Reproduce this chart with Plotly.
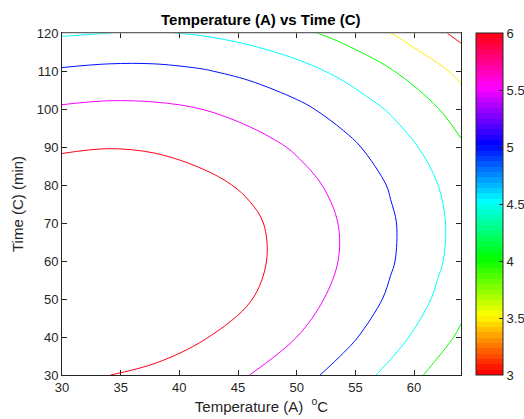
import plotly.graph_objects as go
import colorsys

# Temperature (A) grid, degrees C
temperature = [30, 34, 38, 42, 46, 50, 54, 58, 62, 64]
# Time (C) grid, minutes
time_min = [30, 40, 50, 60, 70, 80, 90, 100, 110, 120]
# Response values estimated from the contour picture (rows = time, cols = temperature)
response = [
    [6.051, 6.003, 5.913, 5.741, 5.499, 5.189, 4.810, 4.361, 3.844, 3.560],
    [6.304, 6.281, 6.190, 6.029, 5.800, 5.501, 5.134, 4.697, 4.192, 3.914],
    [6.449, 6.438, 6.358, 6.210, 6.020, 5.706, 5.350, 4.926, 4.432, 4.160],
    [6.486, 6.487, 6.419, 6.283, 6.110, 5.802, 5.459, 5.046, 4.564, 4.298],
    [6.415, 6.428, 6.373, 6.248, 6.085, 5.791, 5.459, 5.059, 4.589, 4.328],
    [6.237, 6.262, 6.218, 6.105, 5.935, 5.672, 5.352, 4.964, 4.506, 4.251],
    [5.951, 5.988, 5.956, 5.855, 5.685, 5.446, 5.138, 4.761, 4.315, 4.066],
    [5.557, 5.606, 5.586, 5.496, 5.338, 5.111, 4.815, 4.450, 4.016, 3.773],
    [5.055, 5.116, 5.108, 5.030, 4.884, 4.669, 4.385, 4.032, 3.609, 3.372],
    [4.446, 4.499, 4.527, 4.457, 4.322, 4.119, 3.847, 3.505, 3.095, 2.864],
]
x_ticks = [30, 35, 40, 45, 50, 55, 60]
y_ticks = [30, 40, 50, 60, 70, 80, 90, 100, 110, 120]
cbar_ticks = [3, 3.5, 4, 4.5, 5, 5.5, 6]
zmin, zmax = 3, 6

# MATLAB-like hsv(64) stepped colormap
n = 64
hsv_scale = []
for i in range(n):
    r, g, b = colorsys.hsv_to_rgb(i / n, 1, 1)
    c = f"rgb({int(round(r*255))},{int(round(g*255))},{int(round(b*255))})"
    hsv_scale.append([i / n, c])
    hsv_scale.append([(i + 1) / n, c])

FONT = "Liberation Sans, Arial, Helvetica, sans-serif"

fig = go.Figure()
fig.add_trace(go.Contour(
    x=temperature, y=time_min, z=response,
    zmin=zmin, zmax=zmax, zauto=False,
    colorscale=hsv_scale,
    contours=dict(coloring="lines", start=3, end=6, size=0.5, showlabels=False),
    line=dict(width=1, smoothing=1.0),
    showscale=False, hoverinfo="skip",
))
fig.add_trace(go.Scatter(
    x=[None, None], y=[None, None], mode="markers",
    marker=dict(color=[zmin, zmax], cmin=zmin, cmax=zmax, colorscale=hsv_scale,
                showscale=True,
                colorbar=dict(x=(476 - 62) / (461 - 62), xanchor="left", y=0, yanchor="bottom",
                              len=1, lenmode="fraction", thickness=27, xpad=0, ypad=0,
                              outlinewidth=1, outlinecolor="#262626",
                              ticks="inside", ticklen=4, tickcolor="#262626",
                              tickvals=cbar_ticks, ticktext=[str(t) for t in cbar_ticks],
                              tickfont=dict(family=FONT, size=13, color="#262626"))),
    showlegend=False, hoverinfo="skip",
))

axis_common = dict(
    showgrid=False, zeroline=False, showline=True, linecolor="#262626", linewidth=1,
    mirror="ticks", ticks="inside", ticklen=5, tickcolor="#262626",
    tickfont=dict(family=FONT, size=13, color="#262626"),
)
fig.update_layout(
    width=524, height=419,
    margin=dict(l=62, r=63, t=33, b=44, autoexpand=False),
    paper_bgcolor="white", plot_bgcolor="white",
    title=dict(text="<b>Temperature (A) vs Time (C)</b>", x=261 / 524, xref="paper",
               xanchor="center", y=1 - 20/419, yanchor="middle",
               font=dict(family=FONT, size=15, color="#000000")),
    xaxis=dict(range=[30, 64], tickvals=x_ticks,
               title=dict(text="Temperature (A)  <sup>o</sup>C", standoff=7,
                          font=dict(family=FONT, size=15, color="#262626")),
               **axis_common),
    yaxis=dict(range=[30, 120], tickvals=y_ticks,
               title=dict(text="Time (C) (min)", standoff=9,
                          font=dict(family=FONT, size=15, color="#262626")),
               **axis_common),
    shapes=[dict(type="line", xref="paper", yref="paper", x0=0, x1=1, y0=1, y1=1,
                 line=dict(color="#a6a6a6", width=1), layer="above")],
    showlegend=False,
)
fig.write_html("out.html", config={"displayModeBar": False},
               post_script="document.body.style.margin='0';document.body.style.overflow='hidden';")
